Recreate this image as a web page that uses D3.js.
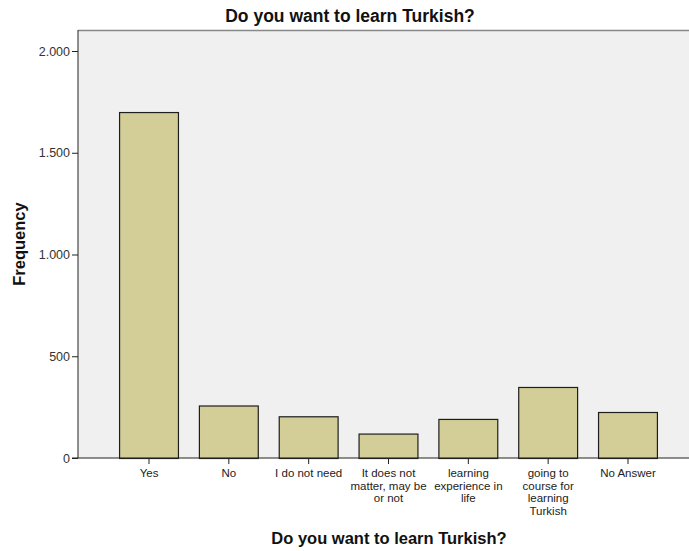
<!DOCTYPE html>
<html><head><meta charset="utf-8">
<script src="https://cdn.jsdelivr.net/npm/d3@7"></script>
<style>body{margin:0;background:#fff;} svg{display:block;font-family:"Liberation Sans",Arial,sans-serif;}</style>
</head><body>
<svg id="chart" width="689" height="551"></svg>
<script>
const categories = ["Yes","No","I do not need","It does not matter, may be or not","learning experience in life","going to course for learning Turkish","No Answer"];
const categoryLines = [["Yes"],["No"],["I do not need"],["It does not","matter, may be","or not"],["learning","experience in","life"],["going to","course for","learning","Turkish"],["No Answer"]];
const frequencies = [1700, 258, 205, 120, 192, 349, 226];
const yTicks = [0, 500, 1000, 1500, 2000];
const yTickLabels = ["0","500","1.000","1.500","2.000"];
const title = "Do you want to learn Turkish?";
const xTitle = "Do you want to learn Turkish?";
const yTitle = "Frequency";

const svg = d3.select("#chart");
const plot = {left:78, top:30, right:689, bottom:458};

const y = d3.scaleLinear().domain([0,2000]).range([458,51]);
const x = d3.scaleBand().domain(categories).range([109.1,667.9]).paddingInner(0.25).paddingOuter(0.125);

svg.append("rect").attr("x",plot.left).attr("y",plot.top).attr("width",plot.right-plot.left).attr("height",plot.bottom-plot.top).attr("fill","#f0f0f0");
svg.append("line").attr("x1",plot.left).attr("x2",plot.right).attr("y1",plot.top+0.5).attr("y2",plot.top+0.5).attr("stroke","#888").attr("stroke-width",1.5);

svg.selectAll("rect.bar").data(frequencies).enter().append("rect").attr("class","bar")
  .attr("x",(d,i)=>x(categories[i])+0.5).attr("y",d=>y(d)+0.5)
  .attr("width",x.bandwidth()-1).attr("height",d=>y(0)-y(d))
  .attr("fill","#d3ce97").attr("stroke","#1e1e1e").attr("stroke-width",1.2);

// y axis
const yAxis = d3.axisLeft(y).tickValues(yTicks).tickFormat((d,i)=>yTickLabels[i]).tickSize(6).tickPadding(2);
const gy = svg.append("g").attr("transform",`translate(${plot.left},0)`).call(yAxis);
gy.select(".domain").attr("stroke","#222").attr("d",`M0,${plot.top}V${plot.bottom}`);
gy.selectAll(".tick line").attr("stroke","#222");
gy.selectAll(".tick text").attr("fill","#333").style("font-size","12.5px");

// x axis
const xAxis = d3.axisBottom(x).tickSize(6).tickFormat("");
const gx = svg.append("g").attr("transform",`translate(0,${plot.bottom})`).call(xAxis);
gx.select(".domain").attr("stroke","#222").attr("d",`M${plot.left-6},0H${plot.right}`);
gx.selectAll(".tick line").attr("stroke","#222");
gx.selectAll(".tick").each(function(d,i){
  const t = d3.select(this).append("text").attr("fill","#222").attr("text-anchor","middle").style("font-size","11.5px");
  categoryLines[i].forEach((ln,j)=>t.append("tspan").attr("x",0).attr("y",19+j*12.5).text(ln));
});

svg.append("text").attr("x",350).attr("y",22).attr("text-anchor","middle").attr("font-weight","bold").style("font-size","17.5px").attr("fill","#111").text(title);
svg.append("text").attr("x",389).attr("y",544).attr("text-anchor","middle").attr("font-weight","bold").style("font-size","16.5px").attr("fill","#111").text(xTitle);
svg.append("text").attr("transform","translate(25,244) rotate(-90)").attr("text-anchor","middle").attr("font-weight","bold").style("font-size","16.5px").attr("fill","#111").text(yTitle);
</script>
</body></html>
